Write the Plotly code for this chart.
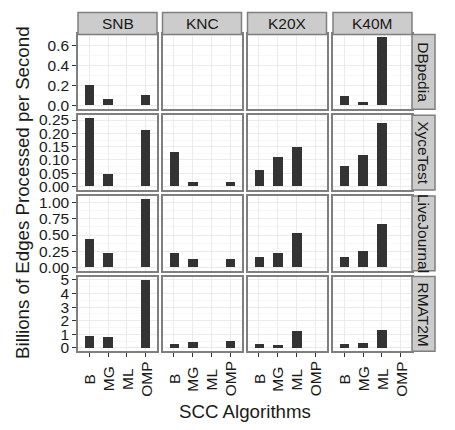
import plotly.graph_objects as go

# ---------------- data ----------------
platforms = ["SNB", "KNC", "K20X", "K40M"]
datasets = ["DBpedia", "XyceTest", "LiveJournal", "RMAT2M"]
algorithms = ["B", "MG", "ML", "OMP"]

# values per platform, ordered as algorithms (B, MG, ML, OMP); None = no bar
dbpedia = {
    "SNB": [0.20, 0.06, None, 0.10],
    "KNC": [None, None, None, None],
    "K20X": [None, None, None, None],
    "K40M": [0.095, 0.038, 0.68, None],
}
xycetest = {
    "SNB": [0.255, 0.046, None, 0.212],
    "KNC": [0.13, 0.017, None, 0.017],
    "K20X": [0.061, 0.11, 0.146, None],
    "K40M": [0.076, 0.116, 0.237, None],
}
livejournal = {
    "SNB": [0.435, 0.225, None, 1.05],
    "KNC": [0.225, 0.135, None, 0.135],
    "K20X": [0.165, 0.225, 0.525, None],
    "K40M": [0.165, 0.255, 0.675, None],
}
rmat2m = {
    "SNB": [0.88, 0.80, None, 5.0],
    "KNC": [0.33, 0.45, None, 0.52],
    "K20X": [0.33, 0.26, 1.30, None],
    "K40M": [0.33, 0.40, 1.37, None],
}
dbpedia_ticks = [0, 0.2, 0.4, 0.6]
xycetest_ticks = [0, 0.05, 0.10, 0.15, 0.20, 0.25]
livejournal_ticks = [0, 0.25, 0.50, 0.75, 1.00]
rmat2m_ticks = [0, 1, 2, 3, 4, 5]
tick_formats = [".1f", ".2f", ".2f", ".0f"]

row_data = [dbpedia, xycetest, livejournal, rmat2m]
row_ticks = [dbpedia_ticks, xycetest_ticks, livejournal_ticks, rmat2m_ticks]

# ---------------- layout geometry (target-page pixels) ----------------
# the page body has an 8px default margin, so the figure is drawn 8px
# smaller and every target position is shifted back by that offset
OFF = 8
W, H = 455 - OFF, 430 - OFF
col_left = [78, 162.5, 247.5, 333]
panel_w = 79
row_top = [30, 112.8, 195.5, 278]
panel_h = 76.5
strip_top = 7.5
strip_w = 23

def fx(px):
    return (px - OFF) / W

def fy(px):
    return 1 - (px - OFF) / H

FONT = "Liberation Sans"
TXT = "#1a1a1a"
GRID = "#ebebeb"
MINOR = "#f7f7f7"
BORDER = "#7f7f7f"
STRIP = "#cccccc"

fig = go.Figure()
layout = dict(
    width=W, height=H, margin=dict(l=0, r=0, t=0, b=0),
    paper_bgcolor="white", plot_bgcolor="white", showlegend=False,
    bargap=0, font=dict(family=FONT, size=15, color=TXT),
)
shapes = []
annotations = []

for i, ds in enumerate(datasets):
    data = row_data[i]
    vals_all = [v for p in platforms for v in data[p] if v is not None]
    vmax = max(vals_all)
    yr = [-0.05 * vmax, 1.05 * vmax]
    ticks = row_ticks[i]
    dt = ticks[1] - ticks[0]
    for j, pf in enumerate(platforms):
        k = i * 4 + j + 1
        xa = "xaxis" if k == 1 else f"xaxis{k}"
        ya = "yaxis" if k == 1 else f"yaxis{k}"
        xr = "x" if k == 1 else f"x{k}"
        yref = "y" if k == 1 else f"y{k}"
        fig.add_trace(go.Bar(
            x=algorithms, y=data[pf], width=0.5,
            marker=dict(color="#333333", line=dict(width=0)),
            xaxis=xr, yaxis=yref,
        ))
        x0, x1 = col_left[j], col_left[j] + panel_w
        y0, y1 = row_top[i], row_top[i] + panel_h
        layout[xa] = dict(
            domain=[fx(x0), fx(x1)], anchor=yref, type="category",
            categoryorder="array", categoryarray=algorithms,
            range=[-0.6, 3.6], showgrid=True, gridcolor=GRID, gridwidth=1,
            showline=True, mirror=True, linecolor=BORDER, linewidth=1.5,
            ticks="outside" if i == 3 else "", ticklen=4, tickcolor="#333333",
            showticklabels=False, zeroline=False, fixedrange=True,
        )
        layout[ya] = dict(
            domain=[fy(y1), fy(y0)], anchor=xr, range=yr,
            tickvals=ticks, tickformat=tick_formats[i],
            showgrid=True, gridcolor=GRID, gridwidth=1,
            minor=dict(dtick=dt / 2, tick0=ticks[0], showgrid=True,
                       gridcolor=MINOR, gridwidth=1, ticks=""),
            showline=True, mirror=True, linecolor=BORDER, linewidth=1.5,
            ticks="outside" if j == 0 else "", ticklen=4, tickcolor="#333333",
            showticklabels=(j == 0), tickfont=dict(size=15.5, color=TXT),
            zeroline=False, fixedrange=True,
        )
        # x tick labels (centered, rotated) for bottom row
        if i == 3:
            for a in algorithms:
                annotations.append(dict(
                    x=a, xref=xr, y=fy(383), yref="paper", text=a,
                    textangle=-90, showarrow=False, xanchor="center",
                    yanchor="middle", font=dict(size=15.5, color=TXT),
                ))

# top strips
for j, pf in enumerate(platforms):
    x0, x1 = col_left[j], col_left[j] + panel_w
    shapes.append(dict(type="rect", xref="paper", yref="paper",
                       x0=fx(x0), x1=fx(x1), y0=fy(row_top[0]), y1=fy(strip_top),
                       fillcolor=STRIP, line=dict(color=BORDER, width=1.5)))
    annotations.append(dict(x=fx((x0 + x1) / 2), y=fy((strip_top + row_top[0]) / 2),
                            xref="paper", yref="paper", text=pf, showarrow=False,
                            xanchor="center", yanchor="middle",
                            font=dict(size=15.5, color=TXT)))
# right strips
sx0 = col_left[3] + panel_w
for i, ds in enumerate(datasets):
    y0, y1 = row_top[i], row_top[i] + panel_h
    shapes.append(dict(type="rect", xref="paper", yref="paper",
                       x0=fx(sx0), x1=fx(sx0 + strip_w), y0=fy(y1), y1=fy(y0),
                       fillcolor=STRIP, line=dict(color=BORDER, width=1.5)))
    annotations.append(dict(x=fx(sx0 + strip_w / 2), y=fy((y0 + y1) / 2),
                            xref="paper", yref="paper", text=ds, showarrow=False,
                            textangle=90, xanchor="center", yanchor="middle",
                            font=dict(size=15.5, color=TXT)))

# axis titles
annotations.append(dict(x=fx((col_left[0] + col_left[3] + panel_w) / 2), y=fy(416),
                        xref="paper", yref="paper", text="SCC Algorithms",
                        showarrow=False, xanchor="center", yanchor="middle",
                        font=dict(size=18.7, color=TXT)))
annotations.append(dict(x=fx(23), y=fy((row_top[0] + row_top[3] + panel_h) / 2),
                        xref="paper", yref="paper",
                        text="Billions of Edges Processed per Second",
                        showarrow=False, textangle=-90, xanchor="center",
                        yanchor="middle", font=dict(size=18.7, color=TXT)))

layout["shapes"] = shapes
layout["annotations"] = annotations
fig.update_layout(**layout)
fig.write_html("out.html")
